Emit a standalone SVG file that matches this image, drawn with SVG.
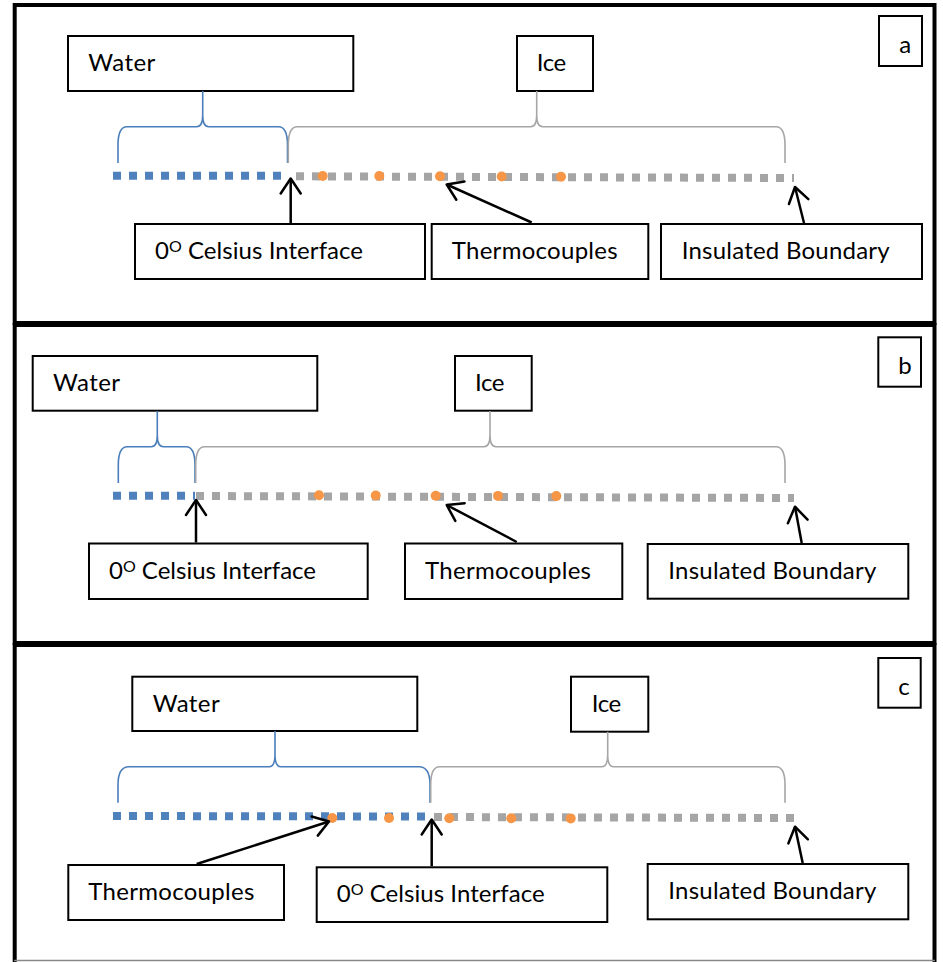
<svg xmlns="http://www.w3.org/2000/svg" width="943" height="962" viewBox="0 0 943 962">
<defs>
<style>
.frame{fill:none;stroke:#000;stroke-width:4}
.box{fill:#fff;stroke:#000;stroke-width:2}
.lbl{font-family:Lato,"Open Sans","Liberation Sans",sans-serif;font-size:24px;fill:#000}
.sup{font-size:16px}
.bb{fill:none;stroke:#4A7EBB;stroke-width:1.6}
.gb{fill:none;stroke:#A6A6A6;stroke-width:1.6}
.bl{fill:none;stroke:#4F81BD;stroke-width:8;stroke-dasharray:8 8}
.gl{fill:none;stroke:#A5A5A5;stroke-width:8;stroke-dasharray:8 8}
.tc{fill:#F79646}
.arr{fill:none;stroke:#000;stroke-width:2.5;marker-end:url(#ah)}
</style>
<marker id="ah" viewBox="-20 -12 24 24" markerWidth="24" markerHeight="24" refX="0" refY="0" orient="auto" markerUnits="userSpaceOnUse">
<path d="M-15,-10 L0,0 L-15,10" fill="none" stroke="#000" stroke-width="2.5" stroke-linejoin="round" stroke-linecap="round"/>
</marker>
</defs>
<rect width="943" height="962" fill="#fff"/>

<g id="frames">
<rect class="frame" x="14.7" y="5" width="919.8" height="318"/>
<rect class="frame" x="14.7" y="325" width="919.8" height="318"/>
<path class="frame" d="M14.7,962 L14.7,645 L934.5,645 L934.5,962"/>
<line x1="14" y1="960.5" x2="935" y2="960.5" stroke="#888" stroke-width="1.5"/>
</g>

<!-- Panel a -->
<g id="a-water"><rect class="box" x="68" y="36" width="285.3" height="55"/><text class="lbl" x="88.3" y="71" textLength="67">Water</text></g>
<g id="a-ice"><rect class="box" x="517" y="36" width="76" height="55"/><text class="lbl" x="536.7" y="71" textLength="29.5">Ice</text></g>
<g id="a-label"><rect class="box" x="879" y="16" width="43" height="50"/><text class="lbl" x="899.3" y="53.3">a</text></g>
<g id="a-interface"><rect class="box" x="135" y="224" width="290" height="55"/><text class="lbl" x="155" y="259.3" textLength="208">0<tspan class="sup" dy="-7">O</tspan><tspan dy="7"> Celsius Interface</tspan></text></g>
<g id="a-thermo"><rect class="box" x="431.7" y="224" width="216.6" height="55"/><text class="lbl" x="451.7" y="259.3" textLength="166">Thermocouples</text></g>
<g id="a-insulated"><rect class="box" x="661" y="224" width="261" height="55"/><text class="lbl" x="681.7" y="259.3" textLength="208">Insulated Boundary</text></g>
<g id="a-rod">
<line class="bl" x1="113" y1="175.8" x2="288" y2="175.8"/>
<line class="gl" x1="296" y1="176.3" x2="794" y2="178"/>
<circle class="tc" cx="322.7" cy="176" r="5"/>
<circle class="tc" cx="379.3" cy="176" r="5"/>
<circle class="tc" cx="440" cy="176.2" r="5"/>
<circle class="tc" cx="501.7" cy="176.5" r="5"/>
<circle class="tc" cx="561" cy="176.7" r="5"/>
</g>

<!-- Panel b -->
<g id="b-water"><rect class="box" x="32.7" y="356" width="284.6" height="54.7"/><text class="lbl" x="53" y="391" textLength="67">Water</text></g>
<g id="b-ice"><rect class="box" x="455" y="356" width="76.7" height="54.7"/><text class="lbl" x="475" y="391" textLength="29.5">Ice</text></g>
<g id="b-label"><rect class="box" x="878.3" y="337.3" width="42.7" height="49.4"/><text class="lbl" x="898.3" y="374">b</text></g>
<g id="b-interface"><rect class="box" x="89" y="543.5" width="278.7" height="55.5"/><text class="lbl" x="109" y="579.3" textLength="207">0<tspan class="sup" dy="-7">O</tspan><tspan dy="7"> Celsius Interface</tspan></text></g>
<g id="b-thermo"><rect class="box" x="405" y="543.5" width="217.3" height="55.5"/><text class="lbl" x="425" y="579" textLength="166">Thermocouples</text></g>
<g id="b-insulated"><rect class="box" x="647.7" y="544" width="260.6" height="54.7"/><text class="lbl" x="668.3" y="578.5" textLength="208">Insulated Boundary</text></g>
<g id="b-rod">
<line class="bl" x1="113" y1="495.8" x2="195" y2="495.8"/>
<line class="gl" x1="196" y1="496" x2="794" y2="498"/>
<circle class="tc" cx="319" cy="495.3" r="5"/>
<circle class="tc" cx="375.7" cy="495.5" r="5"/>
<circle class="tc" cx="435.7" cy="495.7" r="5"/>
<circle class="tc" cx="498" cy="495.9" r="5"/>
<circle class="tc" cx="556.3" cy="496.1" r="5"/>
</g>

<!-- Panel c -->
<g id="c-water"><rect class="box" x="132.3" y="676.7" width="285" height="54.3"/><text class="lbl" x="152.7" y="711.7" textLength="67">Water</text></g>
<g id="c-ice"><rect class="box" x="571" y="676.7" width="77.3" height="55"/><text class="lbl" x="591.7" y="711.7" textLength="29.5">Ice</text></g>
<g id="c-label"><rect class="box" x="878.3" y="658" width="42.4" height="49.7"/><text class="lbl" x="898.3" y="695">c</text></g>
<g id="c-thermo"><rect class="box" x="68.3" y="865" width="215.7" height="55"/><text class="lbl" x="88.3" y="900" textLength="166">Thermocouples</text></g>
<g id="c-interface"><rect class="box" x="316.7" y="867.3" width="290.6" height="54.7"/><text class="lbl" x="336.7" y="901.7" textLength="208">0<tspan class="sup" dy="-7">O</tspan><tspan dy="7"> Celsius Interface</tspan></text></g>
<g id="c-insulated"><rect class="box" x="647.7" y="864" width="260.6" height="55.3"/><text class="lbl" x="668.3" y="898.5" textLength="208">Insulated Boundary</text></g>
<g id="c-rod">
<line class="bl" x1="113" y1="816" x2="425" y2="816.5"/>
<line class="gl" x1="434" y1="817" x2="794" y2="818"/>
<circle class="tc" cx="332.3" cy="818" r="5"/>
<circle class="tc" cx="389" cy="818" r="5"/>
<circle class="tc" cx="449.3" cy="818.2" r="5"/>
<circle class="tc" cx="511.3" cy="818.3" r="5"/>
<circle class="tc" cx="570.7" cy="818.4" r="5"/>
</g>

<g id="connectors">
<!-- braces a -->
<path class="bb" d="M118,163 L118,145 C118,133 121,126.7 127,126.7 L196.7,126.7 C200,126.7 202.7,123 202.7,115 L202.7,91 M287.5,163 L287.5,145 C287.5,133 284.5,126.7 278.5,126.7 L208.7,126.7 C205.4,126.7 202.7,123 202.7,115"/>
<path class="gb" d="M288.3,163 L288.3,145 C288.3,133 291.3,126.7 297.3,126.7 L530.7,126.7 C534,126.7 536.7,123 536.7,115 L536.7,91 M785,163 L785,145 C785,133 782,126.7 776,126.7 L542.7,126.7 C539.4,126.7 536.7,123 536.7,115"/>
<!-- braces b -->
<path class="bb" d="M118.3,483 L118.3,465 C118.3,453 121.3,446.7 127.3,446.7 L151.3,446.7 C154.6,446.7 157.3,443 157.3,435 L157.3,411 M195,483 L195,465 C195,453 192,446.7 186,446.7 L163.3,446.7 C160,446.7 157.3,443 157.3,435"/>
<path class="gb" d="M195.7,483 L195.7,465 C195.7,453 198.7,446.7 204.7,446.7 L484,446.7 C487.3,446.7 490,443 490,435 L490,411 M785,483 L785,465 C785,453 782,446.7 776,446.7 L496,446.7 C492.7,446.7 490,443 490,435"/>
<!-- braces c -->
<path class="bb" d="M118,802.7 L118,784.7 C118,772.7 121,766.7 129,766.7 L269,766.7 C272.3,766.7 275,763 275,755 L275,731 M430,802.7 L430,784.7 C430,772.7 427,766.7 419,766.7 L281,766.7 C277.7,766.7 275,763 275,755"/>
<path class="gb" d="M430.7,802.7 L430.7,784.7 C430.7,772.7 433.7,766.7 439.7,766.7 L601.7,766.7 C605,766.7 607.7,763 607.7,755 L607.7,731.7 M785,802.7 L785,784.7 C785,772.7 782,766.7 776,766.7 L613.7,766.7 C610.4,766.7 607.7,763 607.7,755"/>
<!-- arrows a -->
<line class="arr" x1="290.7" y1="223" x2="290.7" y2="178.5"/>
<line class="arr" x1="531.7" y1="222.5" x2="446.7" y2="184.5"/>
<line class="arr" x1="804" y1="223" x2="795" y2="187"/>
<!-- arrows b -->
<line class="arr" x1="196" y1="542.5" x2="196" y2="500"/>
<line class="arr" x1="516.7" y1="542" x2="446.7" y2="505"/>
<line class="arr" x1="801.7" y1="543" x2="795" y2="506.7"/>
<!-- arrows c -->
<line class="arr" x1="196.7" y1="864" x2="329" y2="821.5"/>
<line class="arr" x1="431.7" y1="866.3" x2="431.7" y2="819.5"/>
<line class="arr" x1="802.7" y1="863" x2="795" y2="826.7"/>
</g>
</svg>
